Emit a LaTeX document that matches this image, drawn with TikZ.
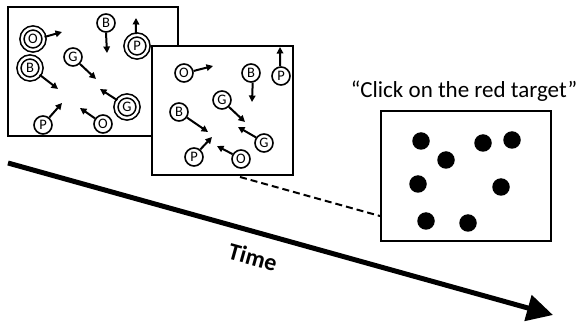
\documentclass[tikz,border=0pt]{standalone}
\usepackage{fontspec}
\setmainfont{Carlito}
\usetikzlibrary{arrows.meta}
\begin{document}
\begin{tikzpicture}[x=1pt,y=-1pt,
  frame/.style={draw=black,line width=2.9pt,fill=white},
  ball/.style={circle,draw=black,line width=1.6pt,fill=white,minimum size=18pt,inner sep=0pt,font=\fontsize{14.5}{14.5}\selectfont},
  dball/.style={ball,minimum size=22pt,double=white,double distance=2.4pt},
  mv/.style={line width=2pt,-{Triangle[length=6.5pt,width=6.5pt]}},
  dot/.style={circle,fill=black,minimum size=17.5pt,inner sep=0pt}]
\useasboundingbox (0,0) rectangle (576,323);
% time arrow
\coordinate (t0) at (8,163);
\coordinate (t1) at (553,315);
\draw[line width=5pt,-{Triangle[length=26pt,width=26pt]}] (t0) -- (t1);
\node[rotate=-15.6,font=\bfseries\fontsize{24}{24}\selectfont] (time) at (253,257) {Time};
% frame 1
\draw[frame] (8,7) rectangle (178,136);
\node[dball] (o1) at (33,39) {O};
\coordinate (o1e) at (62,32);
\draw[mv] (o1.10) -- (o1e);
\node[ball] (b1) at (106,23) {B};
\coordinate (b1e) at (107,53);
\draw[mv] (b1.south) -- (b1e);
\node[dball] (p1) at (137,46) {P};
\coordinate (p1e) at (136,18);
\draw[mv] (p1.95) -- (p1e);
\node[ball] (g1) at (73,57) {G};
\coordinate (g1e) at (96,79);
\draw[mv] (g1.-45) -- (g1e);
\node[dball] (b2) at (30,68) {B};
\coordinate (b2e) at (58,89);
\draw[mv] (b2.-35) -- (b2e);
\node[dball] (g2) at (127,107) {G};
\coordinate (g2e) at (100,89);
\draw[mv] (g2.145) -- (g2e);
\node[ball] (p2) at (43,125) {P};
\coordinate (p2e) at (62,103);
\draw[mv] (p2.50) -- (p2e);
\node[ball] (o2) at (103,124) {O};
\coordinate (o2e) at (80,108);
\draw[mv] (o2.145) -- (o2e);
% frame 2
\draw[frame] (152,46) rectangle (293,175);
\node[ball] (o3) at (184,73) {O};
\coordinate (o3e) at (213,66);
\draw[mv] (o3.12) -- (o3e);
\node[ball] (b3) at (251,73) {B};
\coordinate (b3e) at (252,102);
\draw[mv] (b3.-80) -- (b3e);
\node[ball] (p3) at (281,76) {P};
\coordinate (p3e) at (280,47);
\draw[mv] (p3.95) -- (p3e);
\node[ball] (g3) at (222,100) {G};
\coordinate (g3e) at (245,122);
\draw[mv] (g3.-45) -- (g3e);
\node[ball] (b4) at (179,112) {B};
\coordinate (b4e) at (208,132);
\draw[mv] (b4.-35) -- (b4e);
\node[ball] (g4) at (264,143) {G};
\coordinate (g4e) at (238,127);
\draw[mv] (g4.145) -- (g4e);
\node[ball] (p4) at (194,157) {P};
\coordinate (p4e) at (212,137);
\draw[mv] (p4.50) -- (p4e);
\node[ball] (o4) at (241,159) {O};
\coordinate (o4e) at (217,146);
\draw[mv] (o4.150) -- (o4e);
% dashed link
\coordinate (f2b) at (240,177);
\coordinate (f3l) at (380,216);
\draw[line width=2pt,dash pattern=on 7pt off 4pt] (f2b) -- (f3l);
% frame 3
\node[font=\fontsize{23}{23}\selectfont] (lbl) at (464,91) {“Click on the red target”};
\draw[frame] (381,111) rectangle (551,241);
\node[dot] (d1) at (421,141) {};
\node[dot] (d2) at (446,160) {};
\node[dot] (d3) at (483,143) {};
\node[dot] (d4) at (512,140) {};
\node[dot] (d5) at (418,184) {};
\node[dot] (d6) at (501,187) {};
\node[dot] (d7) at (426,221) {};
\node[dot] (d8) at (468,223) {};
\end{tikzpicture}
\end{document}
